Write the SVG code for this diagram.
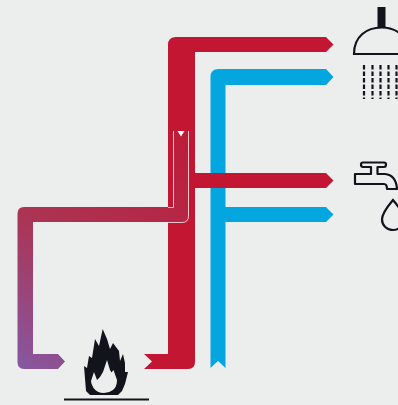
<svg xmlns="http://www.w3.org/2000/svg" width="398" height="405" viewBox="0 0 398 405">
<style>
.red{fill:#c21632}.blue{fill:#04a6df}.ink{fill:none;stroke:#12141b;stroke-width:2.2}
.solid{fill:#12141b}
</style>
<defs>
<linearGradient id="hot" gradientUnits="userSpaceOnUse" x1="20" y1="369" x2="181" y2="131">
<stop offset="0" stop-color="#8658a2"/><stop offset=".45" stop-color="#ab3454"/><stop offset="1" stop-color="#bd1c38"/>
</linearGradient>
</defs>
<rect width="398" height="405" fill="#eceeee"/>
<g id="connectors">
<path id="cold-main" class="blue" d="M210.500 368V77Q210.500 69 218.500 69H326L333.500 77L326 85H225.500V207H326L333.500 214.500L326 222H225.500V368L218 361Z"/>
<path id="hot-main" class="red" d="M144 354H168V45Q168 37 176 37H326L333.500 44.500L326 52H195V173H326L333.500 180.500L326 188H195V362Q195 369 188 369H144L152 361.500Z"/>
<path id="loop" fill="url(#hot)" d="M173 131H189V216Q189 222 183 222H33V354H58L65 361.500L58 369H24Q17.500 369 17.500 362V214Q17.500 207 24 207H173Z"/>
<path fill="none" stroke="#eec5cc" stroke-width="1" d="M173.500 131V207.500H168M188.500 131V216Q188.500 222.500 182 222.500H168"/>
<path fill="#fff" d="M177.500 131H184.500L181 136.500Z"/>
</g>
<g id="burner">
<path class="solid" d="M102.700 329L107 339L110 349L113 343L119 351L120 361L123 354L125 363L125 372L128 372L125 384L122 391L118 395H90L86 391L84 366L87 368L89 356L92 358L95 339L99 346Z"/>
<path fill="#eceeee" d="M107 360L110 370L111.500 372.500L113.500 370L117 380Q117 387 113 390Q109 393 104 393Q97 393 93.500 388Q91 384 91 381L94 372L97 380L100 377L103 372Z"/>
<rect x="64" y="398.500" width="85" height="2" fill="#12141b"/>
</g>
<g id="shower">
<rect class="solid" x="377.500" y="7" width="8" height="20"/>
<path class="ink" d="M354 54H410C409 36 396 27.500 381.500 27.500C367 27.500 354 36 354 54Z"/>
<path fill="none" stroke="#12141b" stroke-width="2.200" stroke-dasharray="4.500 2" d="M364 65V99M372.500 65V99M380.500 65V99M388.500 65V99M396.500 65V99"/>
</g>
<g id="tap">
<path class="ink" stroke-linejoin="round" d="M363 162.500H384Q386 162.500 386 164.500Q386 167 384 167H377.500V174H385Q396 175 397 189H387Q387 184 384 184H355V174H371V167H363Q361 167 361 164.500Q361 162.500 363 162.500Z"/>
<path class="ink" stroke-width="3" d="M393 200Q382 213 382 219.500A11 10.500 0 0 0 404 219.500Q404 213 393 200Z"/>
</g>
</svg>
